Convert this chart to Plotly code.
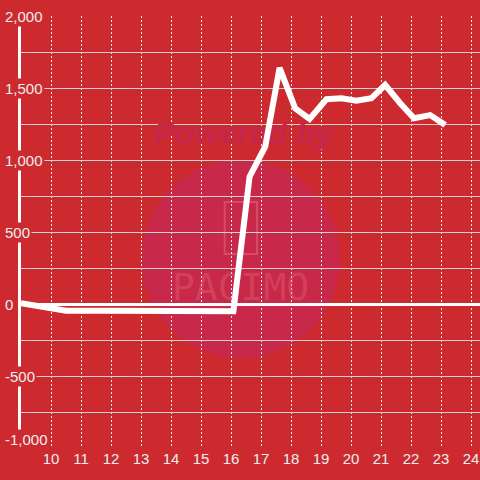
import plotly.graph_objects as go

# ---- data ----
hours = [9.0, 10.5, 12.0, 13.5, 15.0, 16.08, 16.62, 17.14, 17.62, 18.14, 18.62,
         19.18, 19.68, 20.18, 20.68, 21.14, 21.64, 22.1, 22.64, 23.14]
values = [5, -47, -47, -47, -47, -50, 884, 1092, 1640, 1359, 1285,
          1422, 1429, 1412, 1429, 1521, 1394, 1290, 1312, 1243]
y_ticks = [-1000, -500, 0, 500, 1000, 1500, 2000]
x_ticks = list(range(10, 25))

BG = "#cc2a2f"
LABEL = "#eeeeee"

fig = go.Figure()

# watermark text (drawn before the data line so the line sits on top)
fig.add_trace(go.Scatter(
    x=[16.42], y=[1165], mode="text", text=["<b><i>Powered by</i></b>"],
    textfont=dict(family="Liberation Sans, Arial", size=32, color="#c4274a"),
    hoverinfo="skip", showlegend=False))
fig.add_trace(go.Scatter(
    x=[16.32], y=[97], mode="text", text=["PACIMO"],
    textfont=dict(family="DejaVu Sans Mono", size=38, color="rgba(232,110,120,0.35)", weight=300),
    hoverinfo="skip", showlegend=False))

fig.add_trace(go.Scatter(
    x=hours, y=values, mode="lines",
    line=dict(color="#ffffff", width=6),
    hoverinfo="skip", showlegend=False))

# watermark circle and icon
fig.add_shape(type="circle", xref="paper", yref="paper",
              x0=0.2636, x1=0.6949, y0=0.2083, y1=0.6667,
              fillcolor="#c8284a", line=dict(width=0), layer="below")
fig.add_shape(type="rect", xref="paper", yref="paper",
              x0=0.4437, x1=0.5142, y0=0.4491, y1=0.5694,
              fillcolor="rgba(0,0,0,0)", line=dict(width=2, color="rgba(232,110,120,0.5)"),
              layer="below")

# y-axis labels with background that knocks out grid / axis lines
y_min = min(y_ticks)
for v in y_ticks:
    fig.add_annotation(
        xref="paper", yref="y", x=0, y=v, xanchor="left",
        yanchor="bottom" if v == y_min else "middle",
        yshift=-2 if v == y_min else 0,
        xshift=-18, text=f"{v:,}", showarrow=False,
        font=dict(family="Liberation Sans, Arial", size=15, color=LABEL),
        bgcolor=BG, borderpad=1)

fig.update_layout(
    width=480, height=480,
    margin=dict(l=21, r=0, t=16, b=32, autoexpand=False),
    paper_bgcolor=BG, plot_bgcolor=BG,
    showlegend=False,
    xaxis=dict(range=[9.0, 24.3], tickvals=x_ticks, ticktext=[str(t) for t in x_ticks],
               showgrid=True, gridcolor="#e8e8e8", griddash="2px,2px", gridwidth=1,
               zeroline=False, showline=False, ticks="", automargin=False,
               tickfont=dict(family="Liberation Sans, Arial", size=15, color=LABEL)),
    yaxis=dict(range=[-1000, 2000], dtick=250, tick0=0, automargin=False,
               showgrid=True, gridcolor="#d2d2d2", gridwidth=1,
               zeroline=True, zerolinecolor="#ffffff", zerolinewidth=3,
               showline=True, linecolor="#ffffff", linewidth=3,
               showticklabels=False, ticks=""),
)

fig.write_html(
    "out.html",
    config={"displayModeBar": False, "staticPlot": True},
    post_script="document.body.style.margin='0';document.body.style.background='" + BG + "';")
